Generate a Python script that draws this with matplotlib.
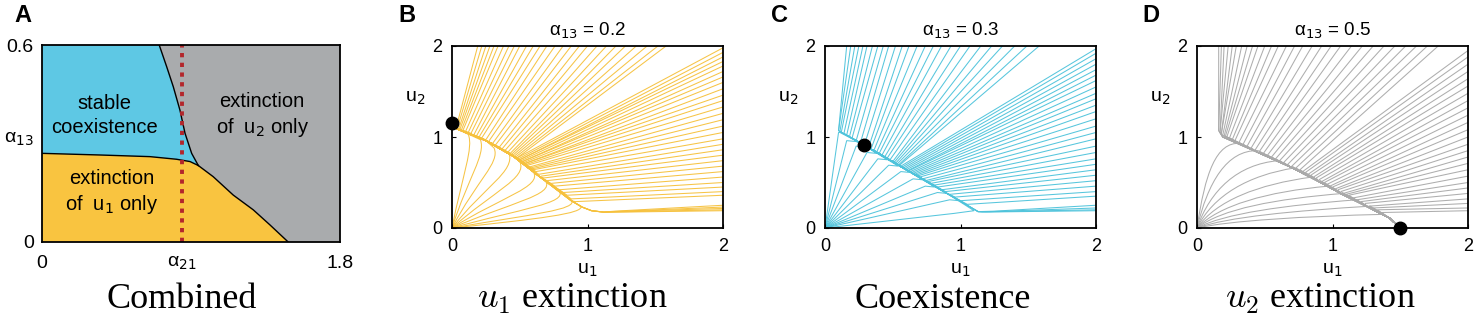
import numpy as np
import matplotlib
matplotlib.use('Agg')
import matplotlib.pyplot as plt
from matplotlib.path import Path
from matplotlib.patches import PathPatch

plt.rcParams['font.family'] = ['Liberation Sans', 'DejaVu Sans']
plt.rcParams['mathtext.fontset'] = 'dejavusans'

# ---------------- panel A : phase diagram ----------------
a_xlim = (0, 1.8)
a_ylim = (0, 0.6)
a_dotted_a21 = 0.843
a_a13_label_pos = 0.32
# blue / grey boundary (top edge -> junction)
a_bg_a21 = [0.708, 0.753, 0.793, 0.833, 0.864, 0.904, 0.944]
a_bg_a13 = [0.600, 0.534, 0.473, 0.402, 0.331, 0.270, 0.233]
# yellow / blue boundary (left edge -> junction)
a_yb_a21 = [0.0, 0.350, 0.652, 0.813, 0.894, 0.944]
a_yb_a13 = [0.270, 0.265, 0.260, 0.252, 0.245, 0.233]
# yellow / grey boundary (junction -> bottom edge)
a_yg_a21 = [0.944, 1.034, 1.155, 1.276, 1.377, 1.487]
a_yg_a13 = [0.233, 0.199, 0.143, 0.098, 0.052, 0.0]

# ---------------- panel B : alpha13 = 0.2 ----------------
b_eq = (0.0, 1.15)
b_man_u1 = [0.02, 0.25, 0.45, 0.65, 0.88, 0.96, 1.03, 1.12, 1.4, 2.0]
b_man_u2 = [1.10, 0.96, 0.79, 0.56, 0.30, 0.23, 0.19, 0.175, 0.17, 0.20]
b_top_u1 = [0.19, 0.22, 0.25, 0.28, 0.31, 0.34, 0.38, 0.42, 0.46, 0.50, 0.55, 0.60, 0.65, 0.70,
            0.76, 0.82, 0.88, 0.94, 1.00, 1.07, 1.14, 1.21, 1.28, 1.36, 1.44, 1.52, 1.58]
b_top_knee_u1 = [0.03, 0.04, 0.05, 0.06, 0.07, 0.08, 0.10, 0.12, 0.14, 0.16, 0.18, 0.20, 0.22, 0.25,
                 0.27, 0.30, 0.32, 0.35, 0.37, 0.39, 0.41, 0.43, 0.44, 0.45, 0.46, 0.47, 0.48]
b_top_knee_u2 = [1.10, 1.10, 1.09, 1.09, 1.08, 1.07, 1.06, 1.05, 1.04, 1.02, 1.01, 1.00, 0.99, 0.97,
                 0.95, 0.93, 0.91, 0.89, 0.87, 0.85, 0.83, 0.82, 0.81, 0.80, 0.79, 0.78, 0.77]
b_right_u2 = [1.98, 1.93, 1.88, 1.83, 1.78, 1.72, 1.66, 1.60, 1.53, 1.46, 1.40, 1.33, 1.26, 1.19,
              1.12, 1.05, 0.98, 0.92, 0.86, 0.80, 0.74, 0.68, 0.62, 0.56, 0.50, 0.45, 0.40, 0.36,
              0.25, 0.23, 0.215, 0.20, 0.19]
b_right_knee_u1 = [0.48, 0.49, 0.50, 0.50, 0.51, 0.52, 0.52, 0.53, 0.54, 0.54, 0.55, 0.56, 0.57, 0.58,
                   0.59, 0.60, 0.62, 0.64, 0.66, 0.68, 0.70, 0.73, 0.76, 0.79, 0.82, 0.85, 0.88, 0.91,
                   1.20, 1.18, 1.16, 1.14, 1.12]
b_right_knee_u2 = [0.77, 0.76, 0.75, 0.75, 0.74, 0.73, 0.73, 0.72, 0.71, 0.71, 0.70, 0.69, 0.67, 0.66,
                   0.65, 0.64, 0.62, 0.59, 0.57, 0.55, 0.52, 0.49, 0.46, 0.42, 0.39, 0.36, 0.32, 0.29,
                   0.185, 0.18, 0.178, 0.175, 0.172]
b_orig_c1_u1 = [0.08, 0.12, 0.18, 0.24, 0.30, 0.36, 0.43, 0.50, 0.58, 0.64]
b_orig_c1_u2 = [0.60, 0.56, 0.52, 0.46, 0.40, 0.34, 0.28, 0.21, 0.15, 0.10]
b_orig_c2_u1 = [0.16, 0.25, 0.36, 0.47, 0.56, 0.67, 0.76, 0.86, 0.94, 0.98]
b_orig_c2_u2 = [0.88, 0.80, 0.72, 0.62, 0.55, 0.45, 0.36, 0.27, 0.20, 0.16]
b_orig_knee_u1 = [0.12, 0.21, 0.31, 0.42, 0.50, 0.60, 0.69, 0.79, 0.88, 0.95]
b_orig_knee_u2 = [1.03, 0.97, 0.88, 0.83, 0.73, 0.62, 0.52, 0.41, 0.31, 0.24]

# ---------------- panel C : alpha13 = 0.3 ----------------
c_eq = (0.29, 0.91)
c_man_u1 = [0.10, 0.29, 0.60, 0.90, 1.13, 1.40, 2.0]
c_man_u2 = [1.06, 0.90, 0.64, 0.38, 0.18, 0.17, 0.20]
c_top_u1 = [0.16, 0.19, 0.22, 0.25, 0.28, 0.31, 0.35, 0.39, 0.43, 0.47, 0.52, 0.57, 0.62, 0.68,
            0.74, 0.80, 0.86, 0.93, 1.00, 1.07, 1.15, 1.23, 1.31, 1.40, 1.49, 1.58]
c_top_knee_u1 = [0.10, 0.10, 0.11, 0.12, 0.14, 0.16, 0.18, 0.20, 0.23, 0.26, 0.29, 0.32, 0.34, 0.36,
                 0.38, 0.40, 0.42, 0.44, 0.46, 0.48, 0.50, 0.51, 0.52, 0.53, 0.54, 0.55]
c_top_knee_u2 = [1.07, 1.07, 1.06, 1.05, 1.04, 1.02, 1.00, 0.99, 0.96, 0.93, 0.91, 0.88, 0.87, 0.85,
                 0.83, 0.82, 0.80, 0.78, 0.77, 0.75, 0.73, 0.72, 0.71, 0.70, 0.69, 0.69]
c_right_u2 = [1.97, 1.92, 1.86, 1.80, 1.74, 1.68, 1.62, 1.55, 1.48, 1.42, 1.35, 1.28, 1.20, 1.12,
              1.05, 0.98, 0.90, 0.83, 0.76, 0.70, 0.64, 0.58, 0.52, 0.46, 0.40, 0.35,
              0.25, 0.22, 0.20, 0.19]
c_right_knee_u1 = [0.56, 0.57, 0.58, 0.59, 0.60, 0.61, 0.62, 0.63, 0.64, 0.65, 0.66, 0.67, 0.68, 0.70,
                   0.72, 0.74, 0.76, 0.78, 0.80, 0.83, 0.86, 0.89, 0.92, 0.96, 1.00, 1.05,
                   1.25, 1.22, 1.19, 1.16]
c_right_knee_u2 = [0.68, 0.67, 0.66, 0.65, 0.64, 0.63, 0.63, 0.62, 0.61, 0.60, 0.59, 0.58, 0.57, 0.56,
                   0.54, 0.52, 0.51, 0.49, 0.47, 0.45, 0.42, 0.40, 0.37, 0.34, 0.30, 0.26,
                   0.185, 0.18, 0.178, 0.175]
c_orig_tip_u1 = [0.10, 0.16, 0.23, 0.31, 0.39, 0.47, 0.56, 0.65, 0.74, 0.83, 0.92, 0.95]
c_orig_tip_u2 = [1.05, 0.96, 0.90, 0.83, 0.76, 0.69, 0.62, 0.54, 0.46, 0.39, 0.31, 0.16]
c_orig_knee_u1 = [0.11, 0.23, 0.30, 0.38, 0.46, 0.54, 0.63, 0.72, 0.81, 0.90, 0.99, 1.10]
c_orig_knee_u2 = [1.05, 0.95, 0.89, 0.82, 0.75, 0.68, 0.61, 0.53, 0.45, 0.38, 0.30, 0.19]

# ---------------- panel D : alpha13 = 0.5 ----------------
d_eq = (1.5, 0.0)
d_man_u1 = [0.16, 0.19, 0.45, 0.69, 0.90, 1.06, 1.25, 1.42]
d_man_u2 = [1.05, 1.00, 0.83, 0.67, 0.51, 0.38, 0.24, 0.11]
d_top_u1 = [0.16, 0.18, 0.20, 0.23, 0.26, 0.29, 0.33, 0.37, 0.41, 0.45, 0.50, 0.55, 0.60, 0.66, 0.72,
            0.78, 0.85, 0.92, 0.99, 1.06, 1.14, 1.22, 1.30, 1.38, 1.46, 1.54, 1.62, 1.70, 1.78]
d_top_knee_u1 = [0.16, 0.16, 0.17, 0.17, 0.18, 0.18, 0.19, 0.20, 0.21, 0.22, 0.24, 0.26, 0.28, 0.31, 0.34,
                 0.37, 0.40, 0.43, 0.46, 0.49, 0.52, 0.55, 0.58, 0.61, 0.64, 0.67, 0.70, 0.73, 0.76]
d_top_knee_u2 = [1.07, 1.07, 1.05, 1.05, 1.04, 1.04, 1.02, 1.01, 1.01, 1.00, 0.99, 0.97, 0.96, 0.94, 0.92,
                 0.90, 0.88, 0.86, 0.84, 0.82, 0.80, 0.78, 0.76, 0.74, 0.72, 0.70, 0.68, 0.66, 0.64]
d_right_u2 = [1.95, 1.88, 1.80, 1.72, 1.64, 1.56, 1.48, 1.40, 1.32, 1.24, 1.16, 1.08, 1.00,
              0.92, 0.85, 0.78, 0.71, 0.64, 0.57, 0.50, 0.44, 0.38, 0.32, 0.27, 0.22, 0.19]
d_right_knee_u1 = [0.78, 0.80, 0.82, 0.84, 0.86, 0.88, 0.90, 0.92, 0.94, 0.96, 0.98, 1.00, 1.02,
                   1.04, 1.06, 1.08, 1.10, 1.12, 1.15, 1.18, 1.21, 1.24, 1.27, 1.30, 1.33, 1.36]
d_right_knee_u2 = [0.62, 0.61, 0.59, 0.58, 0.56, 0.55, 0.53, 0.51, 0.50, 0.48, 0.46, 0.45, 0.43,
                   0.42, 0.40, 0.38, 0.37, 0.36, 0.33, 0.31, 0.29, 0.27, 0.24, 0.22, 0.20, 0.17]
d_orig_c1_u1 = [0.06, 0.08, 0.10, 0.12, 0.14, 0.16, 0.18, 0.20, 0.22, 0.24]
d_orig_c1_u2 = [0.60, 0.50, 0.42, 0.36, 0.30, 0.25, 0.21, 0.16, 0.12, 0.08]
d_orig_c2_u1 = [0.14, 0.22, 0.30, 0.38, 0.45, 0.52, 0.58, 0.65, 0.72, 0.80]
d_orig_c2_u2 = [0.95, 0.86, 0.70, 0.58, 0.48, 0.40, 0.32, 0.25, 0.19, 0.13]
d_orig_knee_u1 = [0.32, 0.45, 0.60, 0.72, 0.85, 0.97, 1.08, 1.18, 1.28, 1.38]
d_orig_knee_u2 = [0.93, 0.85, 0.74, 0.66, 0.56, 0.46, 0.38, 0.31, 0.24, 0.15]

panel_titles = ['Combined', r'$u_1$ extinction', 'Coexistence', r'$u_2$ extinction']
alpha_values = ['0.2', '0.3', '0.5']
panel_letters = ['A', 'B', 'C', 'D']

col_blue = '#5EC8E4'
col_grey = '#A9ABAD'
col_yellow = '#F9C440'
col_red = '#B3262B'
traj_cols = ['#F6C13C', '#4EC3DB', '#A9A9A9']


def manifold_to_eq(man_u1, man_u2, knee_u1, eq):
    pts = []
    pairs = list(zip(man_u1, man_u2))
    if knee_u1 > eq[0]:
        for x, y in sorted(pairs, reverse=True):
            if eq[0] < x < knee_u1:
                pts.append((x, y))
    else:
        for x, y in sorted(pairs):
            if knee_u1 < x < eq[0]:
                pts.append((x, y))
    pts.append(eq)
    return pts


def add_path(ax, verts, codes, color):
    ax.add_patch(PathPatch(Path(verts, codes), fill=False, ec=color, lw=0.75, alpha=0.95))


def straight_family(ax, starts, knees_u1, knees_u2, man, eq, color):
    for s, ku1, ku2 in zip(starts, knees_u1, knees_u2):
        tail = manifold_to_eq(man[0], man[1], ku1, eq)
        verts = [s, (ku1, ku2)] + tail
        codes = [Path.MOVETO] + [Path.LINETO] * (len(verts) - 1)
        add_path(ax, verts, codes, color)


def curved_family(ax, c1u1, c1u2, c2u1, c2u2, ku1s, ku2s, man, eq, color):
    for a, b, c, d, ku1, ku2 in zip(c1u1, c1u2, c2u1, c2u2, ku1s, ku2s):
        tail = manifold_to_eq(man[0], man[1], ku1, eq)
        verts = [(0, 0), (a, b), (c, d), (ku1, ku2)] + tail
        codes = [Path.MOVETO, Path.CURVE4, Path.CURVE4, Path.CURVE4] + [Path.LINETO] * len(tail)
        add_path(ax, verts, codes, color)


fig = plt.figure(figsize=(14.76, 3.18), dpi=100)

# ---- panel A ----
axA = fig.add_axes([42 / 1476, 76 / 318, 298 / 1476, 197 / 318])
axA.set_facecolor(col_grey)
yel_x = [0] + a_yb_a21 + a_yg_a21[1:] + [0]
yel_y = [0] + a_yb_a13 + a_yg_a13[1:] + [0]
axA.fill(yel_x, yel_y, color=col_yellow, lw=0)
blue_x = [0, 0] + a_bg_a21 + a_yb_a21[::-1][1:]
blue_y = [a_yb_a13[0], 0.6] + a_bg_a13 + a_yb_a13[::-1][1:]
axA.fill(blue_x, blue_y, color=col_blue, lw=0)
for bx, by in [(a_bg_a21, a_bg_a13), (a_yb_a21, a_yb_a13), (a_yg_a21, a_yg_a13)]:
    axA.plot(bx, by, color='black', lw=1.0)
axA.plot([a_dotted_a21, a_dotted_a21], [0, 0.6], color=col_red, lw=2.8,
         linestyle=(0, (1.1, 1.4)), dash_capstyle='butt')
axA.set_xlim(*a_xlim)
axA.set_ylim(*a_ylim)
axA.set_xticks([0, a_dotted_a21, 1.8], ['0', 'α$_{21}$', '1.8'])
axA.set_yticks([0, a_a13_label_pos, 0.6], ['0', 'α$_{13}$', '0.6'])
axA.tick_params(length=0, labelsize=14, pad=6)
axA.tick_params(axis='x', pad=9)
for sp in axA.spines.values():
    sp.set_linewidth(1.3)
region_kw = dict(ha='center', va='center', fontsize=14.5, linespacing=1.3)
axA.text(0.38, 0.385, 'stable\ncoexistence', **region_kw)
axA.text(1.33, 0.385, 'extinction\nof  u$_2$ only', **region_kw)
axA.text(0.42, 0.15, 'extinction\nof  u$_1$ only', **region_kw)

# ---- panels B, C, D ----
lefts = [452, 825, 1197]
axes = []
for left in lefts:
    ax = fig.add_axes([left / 1476, 90 / 318, 271 / 1476, 182 / 318])
    ax.set_xlim(0, 2)
    ax.set_ylim(0, 2)
    ax.set_xticks([0, 1, 2])
    ax.set_yticks([0, 1, 2])
    ax.tick_params(direction='in', length=3, labelsize=13, pad=7)
    for sp in ax.spines.values():
        sp.set_linewidth(1.3)
    axes.append(ax)

axB, axC, axD = axes

straight_family(axB, [(u, 2.0) for u in b_top_u1], b_top_knee_u1, b_top_knee_u2,
                (b_man_u1, b_man_u2), b_eq, traj_cols[0])
straight_family(axB, [(2.0, v) for v in b_right_u2], b_right_knee_u1, b_right_knee_u2,
                (b_man_u1, b_man_u2), b_eq, traj_cols[0])
curved_family(axB, b_orig_c1_u1, b_orig_c1_u2, b_orig_c2_u1, b_orig_c2_u2,
              b_orig_knee_u1, b_orig_knee_u2, (b_man_u1, b_man_u2), b_eq, traj_cols[0])

straight_family(axC, [(u, 2.0) for u in c_top_u1], c_top_knee_u1, c_top_knee_u2,
                (c_man_u1, c_man_u2), c_eq, traj_cols[1])
straight_family(axC, [(2.0, v) for v in c_right_u2], c_right_knee_u1, c_right_knee_u2,
                (c_man_u1, c_man_u2), c_eq, traj_cols[1])
for tu1, tu2, ku1, ku2 in zip(c_orig_tip_u1, c_orig_tip_u2, c_orig_knee_u1, c_orig_knee_u2):
    tail = manifold_to_eq(c_man_u1, c_man_u2, ku1, c_eq)
    verts = [(0, 0), (tu1, tu2), (ku1, ku2)] + tail
    add_path(axC, verts, [Path.MOVETO] + [Path.LINETO] * (len(verts) - 1), traj_cols[1])

straight_family(axD, [(u, 2.0) for u in d_top_u1], d_top_knee_u1, d_top_knee_u2,
                (d_man_u1, d_man_u2), d_eq, traj_cols[2])
straight_family(axD, [(2.0, v) for v in d_right_u2], d_right_knee_u1, d_right_knee_u2,
                (d_man_u1, d_man_u2), d_eq, traj_cols[2])
curved_family(axD, d_orig_c1_u1, d_orig_c1_u2, d_orig_c2_u1, d_orig_c2_u2,
              d_orig_knee_u1, d_orig_knee_u2, (d_man_u1, d_man_u2), d_eq, traj_cols[2])

for ax, eq, av in zip(axes, [b_eq, c_eq, d_eq], alpha_values):
    ax.plot([eq[0]], [eq[1]], 'o', color='black', ms=9, clip_on=False, zorder=5)
    ax.text(0.5, 1.03, 'α$_{13}$ = ' + av, transform=ax.transAxes, ha='center',
            va='bottom', fontsize=13.5)
    ax.text(-0.135, 0.71, 'u$_2$', transform=ax.transAxes, ha='center', va='center', fontsize=14)
    ax.text(0.5, -0.23, 'u$_1$', transform=ax.transAxes, ha='center', va='center', fontsize=14)

# panel letters and bottom captions
for letter, xpx in zip(panel_letters, [23, 407, 780, 1151]):
    fig.text(xpx / 1476, 1 - 16 / 318, letter, ha='center', va='center', fontsize=17, fontweight='bold')
for title, xpx in zip(panel_titles, [182, 572, 943, 1320]):
    fig.text(xpx / 1476, 1 - 308 / 318, title, ha='center', va='baseline', fontsize=26,
             family='Liberation Serif', math_fontfamily='cm')

fig.savefig('out.png', dpi=100)
